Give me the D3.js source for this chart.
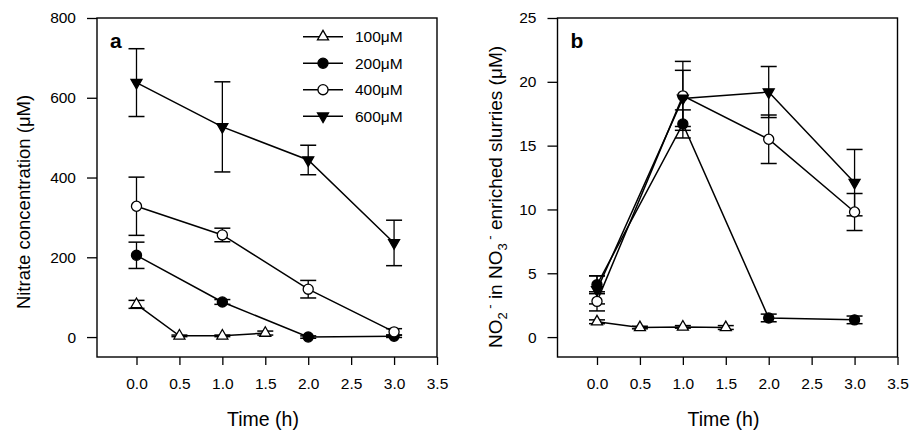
<html>
<head>
    <meta charset="utf-8">
    <script src="https://d3js.org/d3.v7.min.js"></script>
    <title>nitrate / nitrite</title>
    <style>
        body { margin: 0; background: #fff; }
        text { font-family: "Liberation Sans", Arial, sans-serif; fill: #000; }
        .axis .domain { stroke: none; }
        .axis line { stroke: #000; stroke-width: 1.3; }
        .axis text { font-size: 15.5px; }
    </style>
</head>
<body>
<svg id="fig"></svg>
<script>
    // ---- data ----
    const seriesNames = ["100μM", "200μM", "400μM", "600μM"];
    const xTicks = [0, 0.5, 1, 1.5, 2, 2.5, 3, 3.5];
    const t100 = [0, 0.5, 1.0, 1.5];
    const tMain = [0, 1.0, 2.0, 3.0];

    // panel a: nitrate concentration (uM)
    const nitrate100 = [82, 3, 3, 10];
    const nitrate100Err = [10, 2, 2, 5];
    const nitrate200 = [205, 88, 0, 2];
    const nitrate200Err = [33, 6, 3, 3];
    const nitrate400 = [328, 256, 120, 13];
    const nitrate400Err = [73, 17, 22, 8];
    const nitrate600 = [638, 527, 444, 236];
    const nitrate600Err = [85, 113, 37, 57];
    const nitrateTicks = [0, 200, 400, 600, 800];

    // panel b: NO2- in NO3- enriched slurries (uM)
    const nitrite100 = [1.2, 0.75, 0.8, 0.75];
    const nitrite100Err = [0.15, 0.1, 0.1, 0.15];
    const nitrite200 = [4.1, 16.7, 1.5, 1.35];
    const nitrite200Err = [0.7, 1.1, 0.3, 0.3];
    const nitrite400 = [2.8, 18.9, 15.5, 9.8];
    const nitrite400Err = [0.75, 2.7, 1.9, 1.45];
    const nitrite600 = [3.7, 18.7, 19.2, 12.1];
    const nitrite600Err = [1.1, 2.2, 2.0, 2.6];
    const nitriteTicks = [0, 5, 10, 15, 20, 25];

    const width = 909, height = 432;
    const svg = d3.select("svg#fig").attr("width", width).attr("height", height);

    // marker look per series
    const markers = [
        {shape: "up", fill: "#fff"},
        {shape: "circle", fill: "#000"},
        {shape: "circle", fill: "#fff"},
        {shape: "down", fill: "#000"}
    ];

    function markerPath(shape) {
        if (shape === "circle") return d3.symbol(d3.symbolCircle, 80)();
        const s = 11, h = s * Math.sqrt(3) / 2;
        if (shape === "up") return `M0,${-2*h/3}L${s/2},${h/3}L${-s/2},${h/3}Z`;
        return `M0,${2*h/3}L${s/2},${-h/3}L${-s/2},${-h/3}Z`;
    }

    function drawMarker(g, x, y, m) {
        g.append("path")
            .attr("d", markerPath(m.shape))
            .attr("transform", `translate(${x},${y})`)
            .attr("fill", m.fill)
            .attr("stroke", "#000")
            .attr("stroke-width", 1.3);
    }

    function drawPanel(left, yDomain, yTicks, series, letter) {
        const margins = {top: 18, bottom: 75};
        const plotW = 340;
        const xScale = d3.scaleLinear().domain([-0.46, 3.5]).range([left, left + plotW]);
        const yScale = d3.scaleLinear().domain(yDomain).range([height - margins.bottom, margins.top]);

        let g = svg.append("g");

        // box
        g.append("rect")
            .attr("x", left).attr("y", margins.top)
            .attr("width", plotW).attr("height", height - margins.bottom - margins.top)
            .attr("fill", "none").attr("stroke", "#000").attr("stroke-width", 1.4);

        g.append("g")
            .attr("class", "axis")
            .attr("transform", `translate(${left},0)`)
            .call(d3.axisLeft(yScale).tickValues(yTicks).tickSize(10).tickPadding(11).tickFormat(d3.format("d")));

        g.append("g")
            .attr("class", "axis")
            .attr("transform", `translate(0,${height - margins.bottom})`)
            .call(d3.axisBottom(xScale).tickValues(xTicks).tickSize(8).tickPadding(13).tickFormat(d3.format(".1f")));

        const line = d3.line().x(d => xScale(d[0])).y(d => yScale(d[1]));

        series.forEach(s => {
            const pts = s.t.map((t, i) => [t, s.v[i], s.e[i]]);
            g.append("path")
                .attr("d", line(pts))
                .attr("fill", "none").attr("stroke", "#000").attr("stroke-width", 1.5);
            pts.forEach(p => {
                const x = xScale(p[0]), y1 = yScale(p[1] + p[2]), y0 = yScale(p[1] - p[2]);
                g.append("line").attr("x1", x).attr("x2", x).attr("y1", y1).attr("y2", y0)
                    .attr("stroke", "#000").attr("stroke-width", 1.3);
                [y0, y1].forEach(yy => {
                    g.append("line").attr("x1", x - 8).attr("x2", x + 8).attr("y1", yy).attr("y2", yy)
                        .attr("stroke", "#000").attr("stroke-width", 1.5);
                });
            });
        });
        series.forEach(s => {
            s.t.forEach((t, i) => drawMarker(g, xScale(t), yScale(s.v[i]), s.m));
        });

        g.append("text")
            .attr("x", left + 13).attr("y", 48)
            .style("font-size", "21px").style("font-weight", "bold")
            .text(letter);

        g.append("text")
            .attr("x", left + plotW / 2 - 4).attr("y", 426)
            .attr("text-anchor", "middle")
            .style("font-size", "19.5px")
            .text("Time (h)");

        return g;
    }

    // ---- panel a ----
    const seriesA = [
        {t: t100, v: nitrate100, e: nitrate100Err, m: markers[0]},
        {t: tMain, v: nitrate200, e: nitrate200Err, m: markers[1]},
        {t: tMain, v: nitrate400, e: nitrate400Err, m: markers[2]},
        {t: tMain, v: nitrate600, e: nitrate600Err, m: markers[3]}
    ];
    let gA = drawPanel(97, [-50, 800], nitrateTicks, seriesA, "a");

    gA.append("text")
        .attr("transform", "translate(30,202) rotate(-90)")
        .attr("text-anchor", "middle")
        .style("font-size", "18.5px")
        .text("Nitrate concentration (μM)");

    // legend
    seriesNames.forEach((name, i) => {
        const y = 36.7 + i * 26.5;
        gA.append("line").attr("x1", 303).attr("x2", 343).attr("y1", y).attr("y2", y)
            .attr("stroke", "#000").attr("stroke-width", 1.5);
        drawMarker(gA, 323, y, markers[i]);
        gA.append("text").attr("x", 355).attr("y", y).attr("dy", "0.36em")
            .style("font-size", "15.5px").text(name);
    });

    // ---- panel b ----
    const seriesB = [
        {t: t100, v: nitrite100, e: nitrite100Err, m: markers[0]},
        {t: tMain, v: nitrite200, e: nitrite200Err, m: markers[1]},
        {t: tMain, v: nitrite400, e: nitrite400Err, m: markers[2]},
        {t: tMain, v: nitrite600, e: nitrite600Err, m: markers[3]}
    ];
    let gB = drawPanel(557.5, [-1.56, 25], nitriteTicks, seriesB, "b");

    let yLab = gB.append("text")
        .attr("transform", "translate(502,197) rotate(-90)")
        .attr("text-anchor", "middle")
        .style("font-size", "19px");
    yLab.append("tspan").text("NO");
    yLab.append("tspan").attr("dy", 5).style("font-size", "13px").text("2");
    yLab.append("tspan").attr("dy", -13).style("font-size", "13px").text(" -");
    yLab.append("tspan").attr("dy", 8).text(" in NO");
    yLab.append("tspan").attr("dy", 5).style("font-size", "13px").text("3");
    yLab.append("tspan").attr("dy", -13).style("font-size", "13px").text(" -");
    yLab.append("tspan").attr("dy", 8).text(" enriched slurries (μM)");
</script>
</body>
</html>
